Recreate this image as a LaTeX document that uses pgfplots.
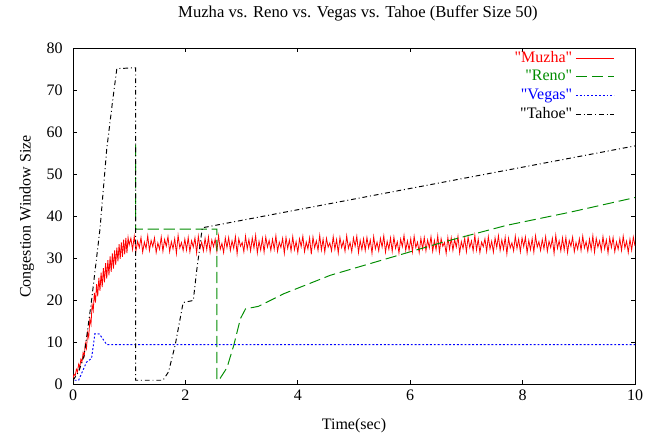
\documentclass[border=0pt]{standalone}
\usepackage{fontspec}
\setmainfont{Liberation Serif}
\usepackage{pgfplots}
\pgfplotsset{compat=1.18}
\definecolor{rgreen}{RGB}{0,140,0}
\newcommand{\q}{\textquotedbl}
\begin{document}
\begin{tikzpicture}
\begin{axis}[
  at={(0,0)}, anchor=south west,
  scale only axis, width=351.25pt, height=210pt,
  xmin=0, xmax=10, ymin=0, ymax=80,
  xtick={0,2,...,10}, ytick={0,10,...,80},
  tick align=inside, major tick length=2.5pt,
  tick style={black, line width=0.6pt},
  axis line style={line width=0.6pt},
  no markers,
  /pgf/number format/assume math mode=true,
  title={Muzha vs. Reno vs. Vegas vs. Tahoe (Buffer Size 50)},
  title style={at={(rel axis cs:0.507,1.077)}, anchor=center, font=\fontsize{10.4}{12}\selectfont},
  xlabel={Time(sec)},
  xlabel style={at={(rel axis cs:0.5,-0.122)}, anchor=center},
  ylabel={Congestion Window Size},
  ylabel style={at={(rel axis cs:-0.082,0.5)}, anchor=center},
  yticklabel style={xshift=-3pt},
  legend style={draw=none, fill=none, at={(rel axis cs:0.973,1.012)}, anchor=north east,
    row sep=-0.4pt},
  legend cell align=right, legend plot pos=right,
  legend image code/.code={\draw[#1] (0pt,0pt) -- (24pt,0pt);},
]
% Muzha
\addplot[red, line width=0.5pt] coordinates {
(0.00,1.5) (0.02,2.4) (0.04,2.1) (0.06,3.6) (0.08,3.0) (0.10,4.8) (0.12,4.0) (0.14,6.0) (0.16,5.4) (0.18,7.6)
(0.20,6.8) (0.22,9.8) (0.24,8.6) (0.26,12.4) (0.28,11.2) (0.30,15.6) (0.32,14.3) (0.34,19.0) (0.36,17.6) (0.38,21.8)
(0.40,19.5) (0.42,23.9) (0.44,21.0) (0.46,25.4) (0.48,22.3) (0.50,26.6) (0.52,23.2) (0.54,27.7) (0.56,24.3) (0.58,28.9)
(0.60,25.2) (0.62,29.6) (0.64,26.0) (0.66,30.5) (0.68,26.8) (0.70,31.2) (0.72,27.6) (0.74,31.9) (0.76,28.5) (0.78,32.6)
(0.80,29.3) (0.82,33.4) (0.84,29.9) (0.86,33.8) (0.88,30.4) (0.90,34.5) (0.92,31.0) (0.94,34.9) (0.96,31.3) (0.98,35.0)
(1.00,33.2) (1.03,34.8) (1.06,32.1) (1.09,35.3) (1.12,31.8) (1.15,34.1) (1.18,32.6) (1.21,35.0) (1.24,31.5) (1.27,33.9)
(1.30,32.4) (1.33,35.4) (1.36,31.9) (1.39,34.3) (1.42,32.8) (1.45,34.9) (1.48,31.4) (1.51,33.7) (1.54,32.2) (1.57,35.1)
(1.60,31.7) (1.63,34.5) (1.66,32.9) (1.69,35.2) (1.72,31.6) (1.75,34.0) (1.78,32.3) (1.81,34.7) (1.84,31.2) (1.87,35.5)
(1.90,32.5) (1.93,33.8) (1.96,31.9) (1.99,34.6) (2.02,32.0) (2.05,35.0) (2.08,31.6) (2.11,34.2) (2.14,32.7) (2.17,34.9)
(2.20,31.3) (2.23,35.3) (2.26,32.4) (2.29,33.9) (2.32,31.8) (2.35,34.8) (2.38,32.1) (2.41,35.1) (2.44,31.5) (2.47,34.4)
(2.50,32.8) (2.53,34.6) (2.56,31.7) (2.59,35.4) (2.62,32.2) (2.65,33.6) (2.68,31.4) (2.71,34.9) (2.74,32.6) (2.77,35.0)
(2.80,31.9) (2.83,34.2) (2.86,32.4) (2.89,35.2) (2.92,31.1) (2.95,34.7) (2.98,32.9) (3.01,33.8) (3.04,31.6) (3.07,35.3)
(3.10,32.3) (3.13,34.5) (3.16,31.8) (3.19,34.9) (3.22,32.5) (3.25,35.5) (3.28,31.3) (3.31,34.1) (3.34,32.0) (3.37,34.8)
(3.40,31.5) (3.43,35.1) (3.46,32.7) (3.49,34.3) (3.52,31.9) (3.55,34.6) (3.58,32.2) (3.61,35.4) (3.64,31.7) (3.67,33.9)
(3.70,32.6) (3.73,34.8) (3.76,31.2) (3.79,35.0) (3.82,32.4) (3.85,34.4) (3.88,31.8) (3.91,35.2) (3.94,32.1) (3.97,34.0)
(4.00,31.4) (4.03,34.7) (4.06,32.8) (4.09,35.3) (4.12,31.6) (4.15,33.9) (4.18,32.3) (4.21,34.9) (4.24,31.0) (4.27,35.1)
(4.30,32.5) (4.33,34.2) (4.36,31.9) (4.39,35.5) (4.42,32.0) (4.45,34.6) (4.48,31.5) (4.51,34.8) (4.54,32.7) (4.57,33.7)
(4.60,31.8) (4.63,35.2) (4.66,32.2) (4.69,34.5) (4.72,31.3) (4.75,35.0) (4.78,32.6) (4.81,34.1) (4.84,31.7) (4.87,35.4)
(4.90,32.4) (4.93,33.8) (4.96,31.6) (4.99,34.9) (5.02,32.9) (5.05,35.3) (5.08,31.4) (5.11,34.3) (5.14,32.1) (5.17,34.7)
(5.20,31.9) (5.23,35.0) (5.26,32.5) (5.29,34.4) (5.32,31.2) (5.35,35.2) (5.38,32.3) (5.41,33.9) (5.44,31.8) (5.47,34.8)
(5.50,32.7) (5.53,35.4) (5.56,31.5) (5.59,34.1) (5.62,32.2) (5.65,34.9) (5.68,31.7) (5.71,35.1) (5.74,32.4) (5.77,34.0)
(5.80,31.3) (5.83,34.6) (5.86,32.8) (5.89,35.5) (5.92,31.9) (5.95,34.2) (5.98,32.0) (6.01,34.7) (6.04,31.6) (6.07,35.3)
(6.10,32.6) (6.13,33.9) (6.16,31.4) (6.19,34.8) (6.22,32.3) (6.25,35.0) (6.28,31.8) (6.31,34.4) (6.34,32.5) (6.37,35.2)
(6.40,31.7) (6.43,34.3) (6.46,32.1) (6.49,35.4) (6.52,31.5) (6.55,34.7) (6.58,32.9) (6.61,33.8) (6.64,31.2) (6.67,35.0)
(6.70,32.2) (6.73,34.9) (6.76,31.9) (6.79,34.5) (6.82,32.7) (6.85,35.3) (6.88,31.3) (6.91,34.0) (6.94,32.4) (6.97,34.8)
(7.00,31.6) (7.03,35.1) (7.06,32.6) (7.09,34.2) (7.12,31.8) (7.15,35.5) (7.18,32.0) (7.21,34.6) (7.24,31.4) (7.27,33.9)
(7.30,32.8) (7.33,34.7) (7.36,31.7) (7.39,35.2) (7.42,32.3) (7.45,34.1) (7.48,31.5) (7.51,34.9) (7.54,32.6) (7.57,35.4)
(7.60,31.9) (7.63,34.4) (7.66,32.2) (7.69,35.0) (7.72,31.1) (7.75,34.8) (7.78,32.5) (7.81,33.7) (7.84,31.8) (7.87,35.3)
(7.90,32.4) (7.93,34.6) (7.96,31.6) (7.99,34.9) (8.02,32.8) (8.05,35.1) (8.08,31.3) (8.11,34.3) (8.14,32.1) (8.17,34.7)
(8.20,31.5) (8.23,35.4) (8.26,32.7) (8.29,34.0) (8.32,31.9) (8.35,34.5) (8.38,32.3) (8.41,35.2) (8.44,31.7) (8.47,34.1)
(8.50,32.6) (8.53,34.8) (8.56,31.2) (8.59,35.5) (8.62,32.4) (8.65,34.2) (8.68,31.8) (8.71,34.9) (8.74,32.0) (8.77,35.0)
(8.80,31.4) (8.83,34.3) (8.86,32.9) (8.89,35.1) (8.92,31.6) (8.95,33.8) (8.98,32.2) (9.01,34.7) (9.04,31.9) (9.07,35.3)
(9.10,32.5) (9.13,34.0) (9.16,31.7) (9.19,34.6) (9.22,32.1) (9.25,35.4) (9.28,31.5) (9.31,34.8) (9.34,32.7) (9.37,34.2)
(9.40,31.8) (9.43,35.2) (9.46,32.3) (9.49,34.4) (9.52,31.3) (9.55,34.9) (9.58,32.6) (9.61,35.0) (9.64,31.6) (9.67,33.9)
(9.70,32.2) (9.73,34.7) (9.76,31.9) (9.79,35.3) (9.82,32.5) (9.85,34.1) (9.88,31.4) (9.91,34.6) (9.94,32.0) (9.97,35.1)
(10.00,33.0)
};
\addlegendentry{\textcolor{red}{\q Muzha\q}}
% Reno
\addplot[rgreen, line width=0.6pt, dash pattern=on 7pt off 3pt] coordinates {
(1.115,57) (1.115,37) (2.56,37) (2.56,1) (2.62,1.5) (2.74,4) (2.86,9.3) (2.98,15.7) (3.07,18)
(3.3,18.6) (3.75,21.6) (4.58,26) (5.47,29.5) (6.59,33.9) (7.72,37.9) (8.84,41.0) (10,44.5)
};
\addlegendentry{\textcolor{rgreen}{\q Reno\q}}
% Vegas
\addplot[blue, line width=0.6pt, dash pattern=on 1.2pt off 1.2pt] coordinates {
(0.03,1) (0.1,1) (0.24,5.3) (0.33,6.2) (0.39,12.1) (0.47,12) (0.6,9.5) (10,9.5)
};
\addlegendentry{\textcolor{blue}{\q Vegas\q}}
% Tahoe
\addplot[black, line width=0.6pt, dash pattern=on 3pt off 1.8pt on 0.6pt off 1.8pt] coordinates {
(0,1) (0.1,3) (0.2,7) (0.33,20) (0.48,37) (0.6,56) (0.7,67) (0.78,75.2) (1.115,75.4) (1.115,1)
(1.6,1) (1.7,3) (1.82,9.5) (1.96,19.5) (2.14,20) (2.2,27) (2.3,37.3) (10,56.8)
};
\addlegendentry{\q Tahoe\q}
\end{axis}
\path[use as bounding box] (-45.625pt,-31.25pt) rectangle (360.625pt,236.875pt);
\end{tikzpicture}
\end{document}
